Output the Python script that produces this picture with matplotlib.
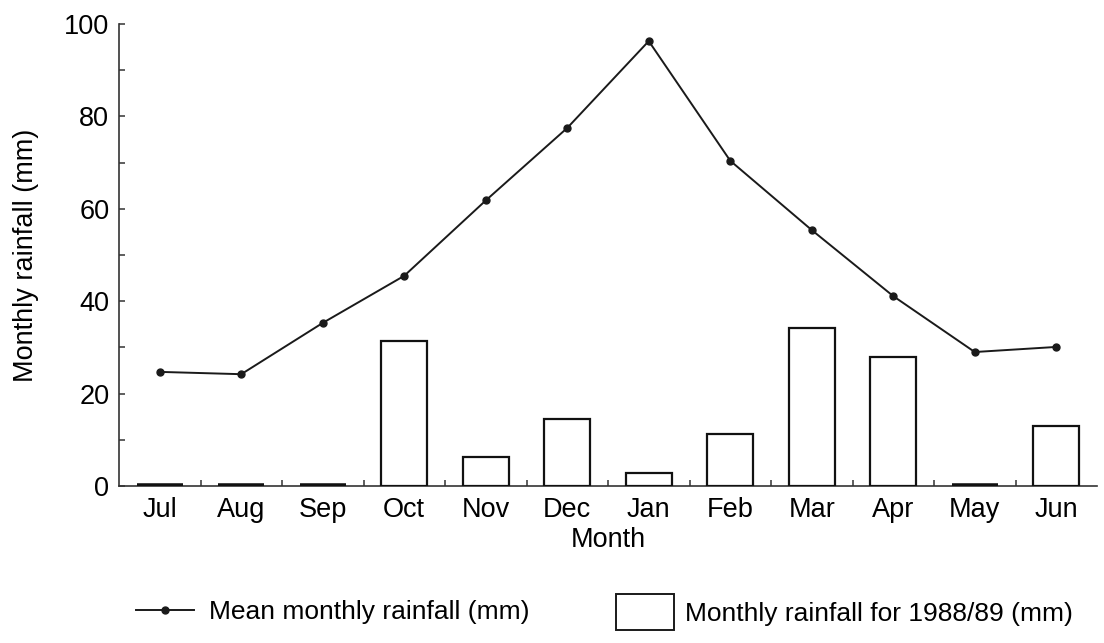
import matplotlib
matplotlib.use("Agg")
import matplotlib.pyplot as plt
from matplotlib.lines import Line2D
from matplotlib.patches import Rectangle
from matplotlib.ticker import MultipleLocator, FixedLocator
import numpy as np

months = ["Jul", "Aug", "Sep", "Oct", "Nov", "Dec", "Jan", "Feb", "Mar", "Apr", "May", "Jun"]
mean_rain = [24.7, 24.2, 35.3, 45.5, 61.8, 77.5, 96.3, 70.4, 55.4, 41.1, 29.0, 30.1]
rain_1988 = [0, 0, 0, 31.4, 6.2, 14.6, 2.8, 11.2, 34.2, 28.0, 0, 12.9]

plt.rcParams['font.family'] = ['Liberation Sans', 'DejaVu Sans']
FS = 19.5

fig = plt.figure(figsize=(11.04, 6.43), dpi=100)
ax = fig.add_axes([119/1104, 157/643, (1097-119)/1104, (486-24)/643])

x = np.arange(len(months))
lws = [4.0 if v == 0 else 1.6 for v in rain_1988]
ax.bar(x, rain_1988, width=0.56, facecolor='white', edgecolor='#111111', linewidth=lws, zorder=3)
ax.plot(x, mean_rain, color='#1a1a1a', linewidth=1.4, marker='o', markersize=5, zorder=4)

ax.set_xlim(-0.5, 11.5)
ax.set_ylim(0, 100)
for s in ['top', 'right']:
    ax.spines[s].set_visible(False)
for s in ['left', 'bottom']:
    ax.spines[s].set_linewidth(1.2)
    ax.spines[s].set_color('#333333')

ax.set_xticks(x)
ax.set_xticklabels(months, fontsize=FS)
ax.xaxis.set_minor_locator(FixedLocator(np.arange(0.5, 11, 1)))
ax.tick_params(axis='x', which='major', length=0, pad=8)
ax.tick_params(axis='x', which='minor', direction='in', length=4, width=1.1, color='#333333')

ax.yaxis.set_major_locator(MultipleLocator(20))
ax.yaxis.set_minor_locator(MultipleLocator(10))
ax.tick_params(axis='y', which='major', direction='in', length=4, width=1.1, labelsize=FS, pad=7, color='#333333')
ax.tick_params(axis='y', which='minor', direction='in', length=4, width=1.1, color='#333333')

ax.set_xlabel("Month", fontsize=FS, labelpad=3)
ax.set_ylabel("Monthly rainfall (mm)", fontsize=FS, labelpad=18)

h1 = Line2D([], [], color='#1a1a1a', linewidth=1.4, marker='o', markersize=5)
h2 = Rectangle((0, 0), 1, 1, facecolor='white', edgecolor='#1a1a1a', linewidth=1.4)
leg1 = fig.legend([h1], ["Mean monthly rainfall (mm)"], loc='center left',
                  bbox_to_anchor=(136/1104, 1 - 612/643), frameon=False, fontsize=19,
                  handlelength=2.2, handletextpad=0.55, borderpad=0, borderaxespad=0)
leg2 = fig.legend([h2], ["Monthly rainfall for 1988/89 (mm)"], loc='center left',
                  bbox_to_anchor=(616/1104, 1 - 612/643), frameon=False, fontsize=19,
                  handlelength=2.2, handleheight=1.75, handletextpad=0.4, borderpad=0, borderaxespad=0)

fig.savefig("out.png", dpi=100, facecolor='white')
